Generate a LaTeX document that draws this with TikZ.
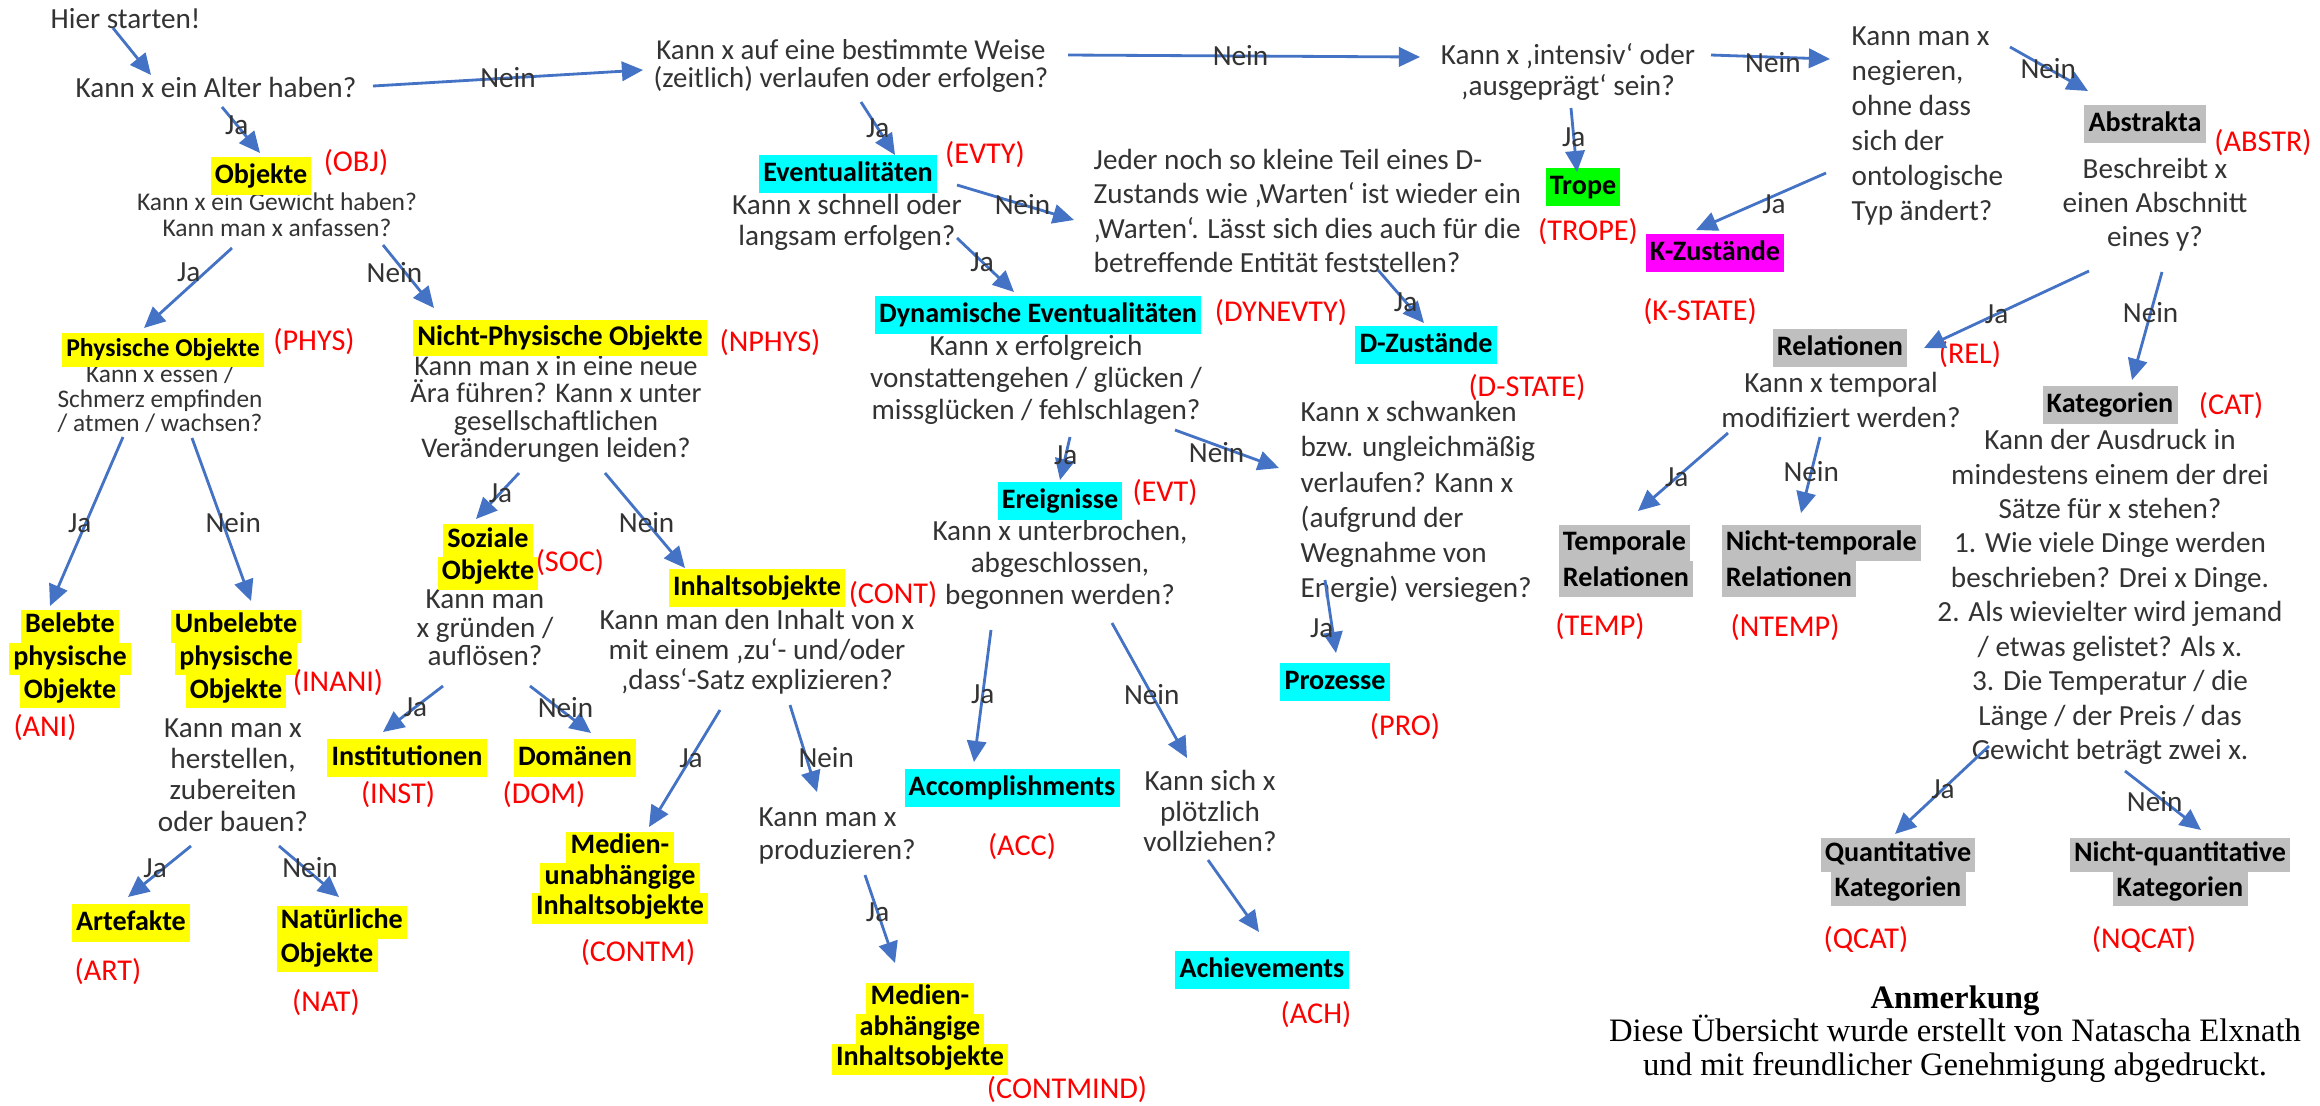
\documentclass[tikz,border=0pt]{standalone}
\usepackage{fontspec}
\setmainfont{Carlito}
\newfontfamily\notefont{Liberation Serif}
\usetikzlibrary{arrows.meta,calc}
\definecolor{arrowblue}{HTML}{4472C4}
\definecolor{hlgray}{HTML}{BFBFBF}
\definecolor{hlyellow}{HTML}{FFFF00}
\definecolor{hlcyan}{HTML}{00FFFF}
\definecolor{hlgreen}{HTML}{00FF00}
\definecolor{hlmagenta}{HTML}{FF00FF}
\definecolor{abbrred}{HTML}{FF0000}
\newcommand{\hlbox}[2]{{\setlength{\fboxsep}{0pt}\colorbox{#1}{\strut\kern1.2pt#2\kern1.2pt}}}
\begin{document}
\begin{tikzpicture}[x=0.01cm,y=-0.01cm,
  q/.style={align=center,inner sep=0pt,text=black!80,font=\fontsize{8.3}{9.4}\selectfont},
  cls/.style={align=center,inner sep=0pt,font=\bfseries\fontsize{8}{10.8}\selectfont},
  abbr/.style={inner sep=0pt,text=abbrred,font=\fontsize{8.6}{10}\selectfont},
  lbl/.style={inner sep=0pt,text=black!80,font=\fontsize{8.3}{10}\selectfont},
  arr/.style={draw=arrowblue,line width=0.8pt,-{Triangle[length=6pt,width=5.5pt]}}]
	\useasboundingbox (0,0) rectangle (2320,1105);
	\fill[white] (0,0) rectangle (2320,1105);

	%questions
	\node[q,anchor=west] (start) at (50,19) {Hier starten!};
	\node[q] (alter) at (216,87) {Kann x ein Alter haben?};
	\node[q,font=\fontsize{8.2}{8}\selectfont] (zeit) at (851,66) {Kann x auf eine bestimmte Weise\\(zeitlich) verlaufen oder erfolgen?};
	\node[q,font=\fontsize{8.3}{8.8}\selectfont] (intens) at (1568,72) {Kann x ‚intensiv‘ oder\\‚ausgeprägt‘ sein?};
	\node[q,align=left,anchor=west,font=\fontsize{8.3}{9.9}\selectfont] (neg) at (1851,126) {Kann man x\\negieren,\\ohne dass\\sich der\\ontologische\\Typ ändert?};
	\node[q,font=\fontsize{7.25}{7.3}\selectfont] (objq) at (277,215) {Kann x ein Gewicht haben?\\Kann man x anfassen?};
	\node[q,font=\fontsize{7.2}{7}\selectfont] (physq) at (160,399) {Kann x essen /\\Schmerz empfinden\\/ atmen / wachsen?};
	\node[q,font=\fontsize{8.1}{7.8}\selectfont] (nphysq) at (556,409) {Kann man x in eine neue\\Ära führen? Kann x unter\\gesellschaftlichen\\Veränderungen leiden?};
	\node[q,font=\fontsize{8.3}{8.9}\selectfont] (inaniq) at (233,775) {Kann man x\\herstellen,\\zubereiten\\oder bauen?};
	\node[q,font=\fontsize{8.3}{8.1}\selectfont] (socq) at (485,628) {Kann man\\x gründen /\\auflösen?};
	\node[q,font=\fontsize{8.3}{8.5}\selectfont] (contq) at (757,652) {Kann man den Inhalt von x\\mit einem ‚zu‘- und/oder\\‚dass‘-Satz explizieren?};
	\node[q,align=left,anchor=west] (prodq) at (758,836) {Kann man x\\produzieren?};
	\node[q,font=\fontsize{8.3}{8.8}\selectfont] (evtyq) at (847,222) {Kann x schnell oder\\langsam erfolgen?};
	\node[q,align=left,anchor=west,font=\fontsize{8.3}{9.8}\selectfont] (dstq) at (1093,211) {Jeder noch so kleine Teil eines D-\\Zustands wie ‚Warten‘ ist wieder ein\\‚Warten‘. Lässt sich dies auch für die\\betreffende Entität feststellen?};
	\node[q,font=\fontsize{8.3}{9.1}\selectfont] (dynq) at (1036,380) {Kann x erfolgreich\\vonstattengehen / glücken /\\missglücken / fehlschlagen?};
	\node[q,font=\fontsize{8.3}{9.1}\selectfont] (evtq) at (1060,565) {Kann x unterbrochen,\\abgeschlossen,\\begonnen werden?};
	\node[q,align=left,anchor=west,font=\fontsize{8.3}{10}\selectfont] (schwq) at (1300,502) {Kann x schwanken\\bzw. ungleichmäßig\\verlaufen? Kann x\\(aufgrund der\\Wegnahme von\\Energie) versiegen?};
	\node[q,font=\fontsize{8.3}{8.8}\selectfont] (suddq) at (1210,811) {Kann sich x\\plötzlich\\vollziehen?};
	\node[q,font=\fontsize{8.3}{9.7}\selectfont] (abstrq) at (2155,205) {Beschreibt x\\einen Abschnitt\\eines y?};
	\node[q,font=\fontsize{8.3}{9.7}\selectfont] (relq) at (1841,400) {Kann x temporal\\modifiziert werden?};
	\node[q,font=\fontsize{8.3}{9.8}\selectfont] (catq) at (2110,597) {Kann der Ausdruck in\\mindestens einem der drei\\Sätze für x stehen?\\1. Wie viele Dinge werden\\beschrieben? Drei x Dinge.\\2. Als wievielter wird jemand\\/ etwas gelistet? Als x.\\3. Die Temperatur / die\\Länge / der Preis / das\\Gewicht beträgt zwei x.};

	%classes
	\node[cls] (obj) at (261,176) {\hlbox{hlyellow}{Objekte}};
	\node[cls,font=\bfseries\fontsize{7.3}{9.7}\selectfont] (phys) at (163,350) {\hlbox{hlyellow}{Physische Objekte}};
	\node[cls,font=\bfseries\fontsize{8.1}{10}\selectfont] (nphys) at (560,338) {\hlbox{hlyellow}{Nicht-Physische Objekte}};
	\node[cls,font=\bfseries\fontsize{8}{9.3}\selectfont] (ani) at (70,659) {\hlbox{hlyellow}{Belebte}\\\hlbox{hlyellow}{physische}\\\hlbox{hlyellow}{Objekte}};
	\node[cls,font=\bfseries\fontsize{8}{9.3}\selectfont] (inani) at (236,659) {\hlbox{hlyellow}{Unbelebte}\\\hlbox{hlyellow}{physische}\\\hlbox{hlyellow}{Objekte}};
	\node[cls] (art) at (131,923) {\hlbox{hlyellow}{Artefakte}};
	\node[cls,align=left,anchor=west,font=\bfseries\fontsize{8}{9.5}\selectfont] (nat) at (276,939) {\hlbox{hlyellow}{Natürliche}\\\hlbox{hlyellow}{Objekte}};
	\node[cls,font=\bfseries\fontsize{8}{9.25}\selectfont] (soc) at (488,557) {\hlbox{hlyellow}{Soziale}\\\hlbox{hlyellow}{Objekte}};
	\node[cls] (inst) at (407,758) {\hlbox{hlyellow}{Institutionen}};
	\node[cls] (dom) at (575,758) {\hlbox{hlyellow}{Domänen}};
	\node[cls] (cont) at (757,588) {\hlbox{hlyellow}{Inhaltsobjekte}};
	\node[cls,font=\bfseries\fontsize{8}{8.7}\selectfont] (contm) at (620,878) {\hlbox{hlyellow}{Medien-}\\\hlbox{hlyellow}{unabhängige}\\\hlbox{hlyellow}{Inhaltsobjekte}};
	\node[cls,font=\bfseries\fontsize{8}{8.7}\selectfont] (contmind) at (920,1029) {\hlbox{hlyellow}{Medien-}\\\hlbox{hlyellow}{abhängige}\\\hlbox{hlyellow}{Inhaltsobjekte}};
	\node[cls] (evty) at (848,174) {\hlbox{hlcyan}{Eventualitäten}};
	\node[cls] (dynevty) at (1038,315) {\hlbox{hlcyan}{Dynamische Eventualitäten}};
	\node[cls] (dstate) at (1426,345) {\hlbox{hlcyan}{D-Zustände}};
	\node[cls] (trope) at (1583,187) {\hlbox{hlgreen}{Trope}};
	\node[cls] (kstate) at (1715,253) {\hlbox{hlmagenta}{K-Zustände}};
	\node[cls] (evt) at (1060,501) {\hlbox{hlcyan}{Ereignisse}};
	\node[cls] (pro) at (1335,682) {\hlbox{hlcyan}{Prozesse}};
	\node[cls] (acc) at (1012,788) {\hlbox{hlcyan}{Accomplishments}};
	\node[cls] (ach) at (1262,970) {\hlbox{hlcyan}{Achievements}};
	\node[cls] (abstr) at (2145,124) {\hlbox{hlgray}{Abstrakta}};
	\node[cls] (rel) at (1840,348) {\hlbox{hlgray}{Relationen}};
	\node[cls,align=left,anchor=west,font=\bfseries\fontsize{8}{10.2}\selectfont] (temp) at (1558,561) {\hlbox{hlgray}{Temporale}\\\hlbox{hlgray}{Relationen}};
	\node[cls,align=left,anchor=west,font=\bfseries\fontsize{8}{10.2}\selectfont] (ntemp) at (1721,561) {\hlbox{hlgray}{Nicht-temporale}\\\hlbox{hlgray}{Relationen}};
	\node[cls] (cat) at (2110,405) {\hlbox{hlgray}{Kategorien}};
	\node[cls,font=\bfseries\fontsize{8}{9.8}\selectfont] (qcat) at (1898,872) {\hlbox{hlgray}{Quantitative}\\\hlbox{hlgray}{Kategorien}};
	\node[cls,font=\bfseries\fontsize{8}{9.8}\selectfont] (nqcat) at (2180,872) {\hlbox{hlgray}{Nicht-quantitative}\\\hlbox{hlgray}{Kategorien}};

	%abbreviations
	\node[abbr] (t-obj) at (356,163) {(OBJ)};
	\node[abbr] (t-phys) at (314,342) {(PHYS)};
	\node[abbr] (t-nphys) at (770,343) {(NPHYS)};
	\node[abbr] (t-ani) at (45,728) {(ANI)};
	\node[abbr] (t-inani) at (338,683) {(INANI)};
	\node[abbr] (t-art) at (108,972) {(ART)};
	\node[abbr] (t-nat) at (326,1003) {(NAT)};
	\node[abbr] (t-soc) at (570,563) {(SOC)};
	\node[abbr] (t-inst) at (398,795) {(INST)};
	\node[abbr] (t-dom) at (544,795) {(DOM)};
	\node[abbr] (t-cont) at (893,595) {(CONT)};
	\node[abbr] (t-contm) at (638,953) {(CONTM)};
	\node[abbr] (t-contmind) at (1067,1090) {(CONTMIND)};
	\node[abbr] (t-evty) at (985,155) {(EVTY)};
	\node[abbr] (t-dynevty) at (1281,313) {(DYNEVTY)};
	\node[abbr] (t-dstate) at (1527,388) {(D-STATE)};
	\node[abbr] (t-trope) at (1588,232) {(TROPE)};
	\node[abbr] (t-kstate) at (1700,312) {(K-STATE)};
	\node[abbr] (t-evt) at (1165,493) {(EVT)};
	\node[abbr] (t-pro) at (1405,727) {(PRO)};
	\node[abbr] (t-acc) at (1022,847) {(ACC)};
	\node[abbr] (t-ach) at (1316,1015) {(ACH)};
	\node[abbr] (t-abstr) at (2263,143) {(ABSTR)};
	\node[abbr] (t-rel) at (1970,355) {(REL)};
	\node[abbr] (t-temp) at (1600,627) {(TEMP)};
	\node[abbr] (t-ntemp) at (1785,628) {(NTEMP)};
	\node[abbr] (t-cat) at (2231,406) {(CAT)};
	\node[abbr] (t-qcat) at (1866,940) {(QCAT)};
	\node[abbr] (t-nqcat) at (2144,940) {(NQCAT)};

	%arrows, top row
	\draw[arr] ($(start.west)+(63,9)$) -- ($(alter)+(-65,-12)$); %start
	\draw[arr] ($(alter)+(157,-1)$) -- node[lbl,pos=.5] (n1) {Nein} ($(zeit)+(-208,4)$);
	\draw[arr] ($(zeit)+(217,-11)$) -- node[lbl,pos=.49] (n2) {Nein} ($(intens)+(-148,-15)$);
	\draw[arr] ($(intens)+(143,-17)$) -- node[lbl,pos=.52,yshift=-1.5pt] (n3) {Nein} ($(neg.west)+(-21,-67)$);
	\draw[arr] ($(neg.west)+(159,-79)$) -- node[lbl,pos=.49] (n4) {Nein} ($(abstr)+(-57,-33)$);
	\draw[arr] ($(intens)+(3,36)$) -- node[lbl,pos=.46] (j1) {Ja} ($(trope)+(-6,-15)$);
	\draw[arr] ($(neg.west)+(-25,47)$) -- node[lbl,pos=.4,yshift=-2.5pt] (j2) {Ja} ($(kstate)+(-19,-23)$);

	%abstracta
	\draw[arr] ($(abstrq)+(-66,66)$) -- node[lbl,pos=.56] (j3) {Ja} ($(rel)+(84,0)$);
	\draw[arr] ($(abstrq)+(7,67)$) -- node[lbl,pos=.38] (n5) {Nein} ($(cat)+(22,-25)$);
	\draw[arr] ($(relq)+(-113,33)$) -- node[lbl,pos=.57] (j4) {Ja} ($(temp.west)+(80,-50)$);
	\draw[arr] ($(relq)+(-21,37)$) -- node[lbl,pos=.46] (n6) {Nein} ($(ntemp.west)+(80,-48)$);
	\draw[arr] ($(catq)+(-121,149)$) -- node[lbl,pos=.49] (j5) {Ja} ($(qcat)+(-3,-38)$);
	\draw[arr] ($(catq)+(15,174)$) -- node[lbl,pos=.39,yshift=-2pt] (n7) {Nein} ($(nqcat)+(21,-42)$);

	%objects
	\draw[arr] ($(alter)+(6,20)$) -- node[lbl,pos=.39] (j6) {Ja} ($(obj)+(-1,-23)$);
	\draw[arr] ($(objq)+(-45,33)$) -- node[lbl,pos=.3,xshift=-4.8pt] (j7) {Ja} ($(phys)+(-19,-22)$);
	\draw[arr] ($(objq)+(106,30)$) -- node[lbl,pos=.43,xshift=-3pt] (n8) {Nein} ($(nphys)+(-126,-30)$);
	\draw[arr] ($(physq)+(-37,38)$) -- node[lbl,pos=.51,xshift=-1.7pt] (j8) {Ja} ($(ani)+(-20,-53)$);
	\draw[arr] ($(physq)+(32,39)$) -- node[lbl,pos=.52,xshift=3pt] (n9) {Nein} ($(inani)+(15,-58)$);
	\draw[arr] ($(inaniq)+(-42,71)$) -- node[lbl,pos=.43,xshift=-2.5pt] (j9) {Ja} ($(art)+(-3,-26)$);
	\draw[arr] ($(inaniq)+(46,71)$) -- node[lbl,pos=.43,xshift=1.5pt] (n10) {Nein} ($(nat.west)+(63,-42)$);
	\draw[arr] ($(nphysq)+(-37,64)$) -- node[lbl,pos=.43] (j10) {Ja} ($(soc)+(-12,-38)$);
	\draw[arr] ($(nphysq)+(49,64)$) -- node[lbl,pos=.52] (n11) {Nein} ($(cont)+(-72,-20)$);
	\draw[arr] ($(socq)+(-42,58)$) -- node[lbl,pos=.46] (j11) {Ja} ($(inst)+(-24,-26)$);
	\draw[arr] ($(socq)+(45,58)$) -- node[lbl,pos=.45,xshift=2.3pt] (n12) {Nein} ($(dom)+(16,-25)$);
	\draw[arr] ($(contq)+(-37,58)$) -- node[lbl,pos=.41] (j12) {Ja} ($(contm)+(29,-51)$);
	\draw[arr] ($(contq)+(33,53)$) -- node[lbl,pos=.6,xshift=5.7pt] (n13) {Nein} ($(prodq.west)+(59,-44)$);
	\draw[arr] ($(prodq.west)+(107,39)$) -- node[lbl,pos=.42] (j13) {Ja} ($(contmind)+(-25,-66)$);

	%eventualities
	\draw[arr] ($(zeit)+(10,36)$) -- node[lbl,pos=.49] (j14) {Ja} ($(evty)+(47,-19)$);
	\draw[arr] ($(evty)+(109,11)$) -- node[lbl,pos=.56] (n14) {Nein} ($(dstq.west)+(-19,9)$);
	\draw[arr] ($(evtyq)+(110,16)$) -- node[lbl,pos=.44] (j15) {Ja} ($(dynevty)+(-24,-23)$);
	\draw[arr] ($(dstq.west)+(285,59)$) -- node[lbl,pos=.6] (j16) {Ja} ($(dstate)+(-2,-22)$);
	\draw[arr] ($(dynq)+(34,57)$) -- node[lbl,pos=.42] (j17) {Ja} ($(evt)+(0,-21)$);
	\draw[arr] ($(dynq)+(139,50)$) -- node[lbl,pos=.4,yshift=-2pt] (n15) {Nein} ($(schwq.west)+(-21,-34)$);
	\draw[arr] ($(schwq.west)+(25,78)$) -- node[lbl,pos=.66,xshift=-3pt] (j18) {Ja} ($(pro)+(1,-29)$);
	\draw[arr] ($(evtq)+(-69,65)$) -- node[lbl,pos=.49] (j19) {Ja} ($(acc)+(-38,-26)$);
	\draw[arr] ($(evtq)+(52,58)$) -- node[lbl,pos=.53] (n16) {Nein} ($(suddq)+(-23,-53)$);
	\draw[arr] ($(suddq)+(-2,49)$) -- ($(ach)+(-3,-38)$); %achievements

	%note
	\node[align=center,inner sep=0pt,font=\notefont\fontsize{9.3}{9.6}\selectfont] (note) at (1955,1034) {\textbf{Anmerkung}\\Diese Übersicht wurde erstellt von Natascha Elxnath\\und mit freundlicher Genehmigung abgedruckt.};
\end{tikzpicture}
\end{document}
